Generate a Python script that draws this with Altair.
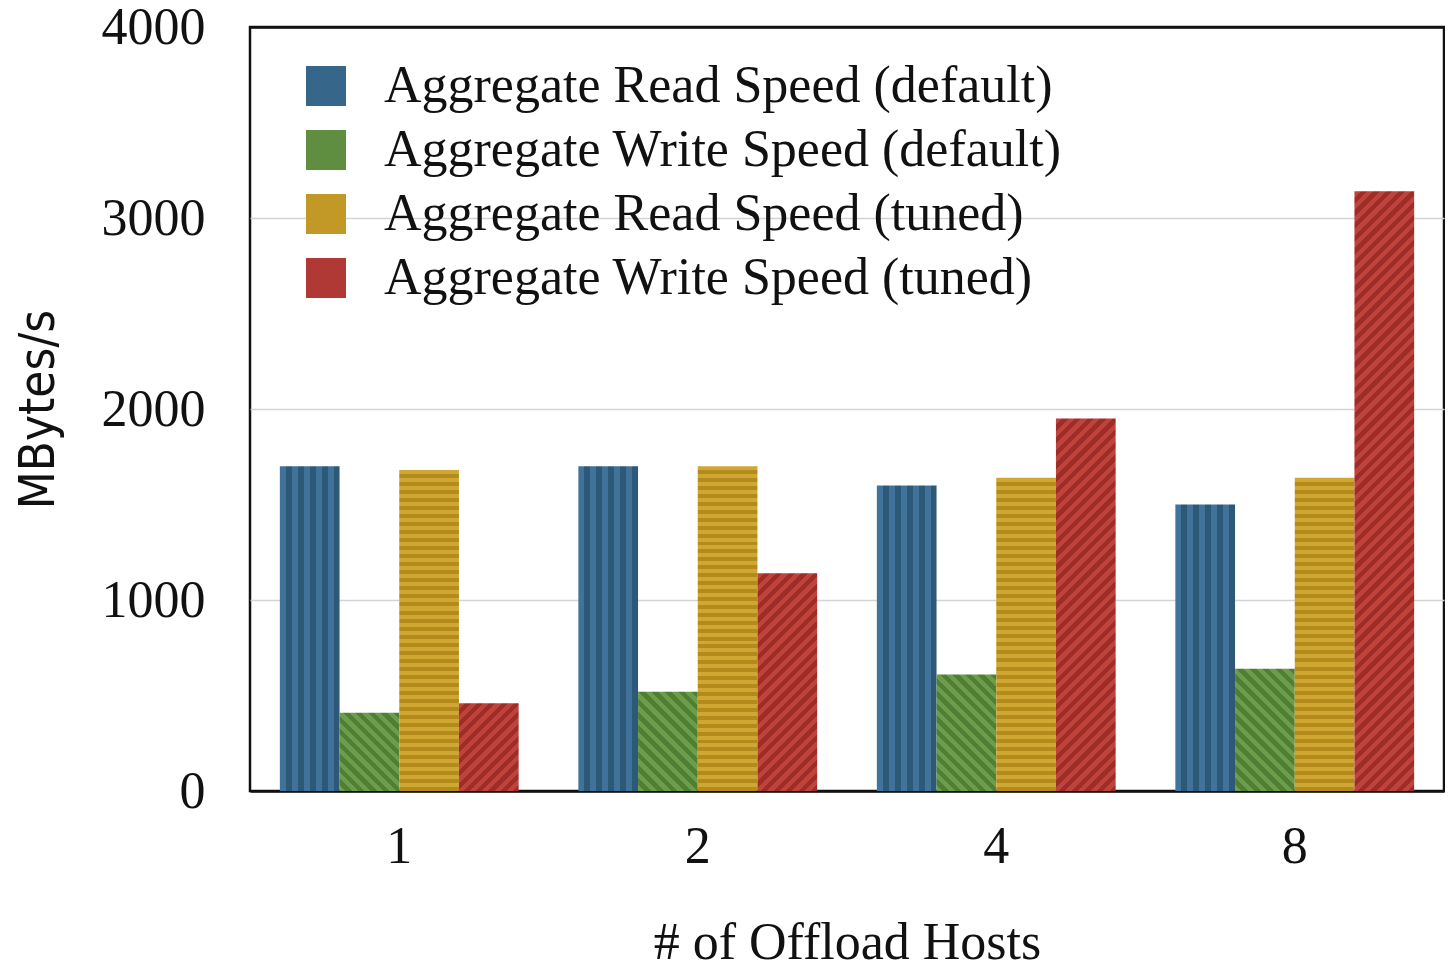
import altair as alt
import pandas as pd

hosts = ["1", "2", "4", "8"]
series = [
    "Aggregate Read Speed (default)",
    "Aggregate Write Speed (default)",
    "Aggregate Read Speed (tuned)",
    "Aggregate Write Speed (tuned)",
]
read_default = [1700, 1700, 1600, 1500]
write_default = [410, 520, 610, 640]
read_tuned = [1680, 1700, 1640, 1640]
write_tuned = [460, 1140, 1950, 3140]

values = [read_default, write_default, read_tuned, write_tuned]
light = ["#41739a", "#6c9d4a", "#d0a732", "#bf423b"]
dark = ["#2b5977", "#517e35", "#b38a1c", "#9e2d2a"]
legend_colors = ["#36668a", "#5f8e40", "#c29927", "#b03835"]
patterns = ["vertical", "backslash", "horizontal", "slash"]

W, H = 1194, 764
YMAX = 4000
step = W / 4.0
bar_w = step * 0.8 / 4.0

rows = []
for s, vals in zip(series, values):
    for h, v in zip(hosts, vals):
        rows.append({"host": h, "series": s, "value": v})
df = pd.DataFrame(rows)


def stops(c1, c2, n):
    out = []
    for i in range(n):
        a = i / n
        b = (i + 0.5) / n
        c = (i + 1) / n
        out += [
            {"offset": a, "color": c1},
            {"offset": b, "color": c1},
            {"offset": b, "color": c2},
            {"offset": c, "color": c2},
        ]
    return out


def gradient(kind, c1, c2, hpx):
    w = bar_w
    if kind == "vertical":
        n = 5
        return {"gradient": "linear", "x1": 0, "y1": 0, "x2": 1, "y2": 0,
                "stops": stops(c1, c2, n)}
    if kind == "horizontal":
        n = max(1, round(hpx / 8.0))
        return {"gradient": "linear", "x1": 0, "y1": 0, "x2": 0, "y2": 1,
                "stops": stops(c1, c2, n)}
    a = (w + hpx) / (w * w + hpx * hpx)
    n = max(1, round((w + hpx) / (9.0 * 1.41421)))
    if kind == "slash":
        return {"gradient": "linear", "x1": 0, "y1": 0, "x2": a * w, "y2": a * hpx,
                "stops": stops(c1, c2, n)}
    return {"gradient": "linear", "x1": 0, "y1": 1, "x2": a * w, "y2": 1 - a * hpx,
            "stops": stops(c1, c2, n)}


x_enc = alt.X(
    "host:N",
    scale=alt.Scale(domain=hosts, paddingInner=0.2, paddingOuter=0.1),
    axis=alt.Axis(
        title="# of Offload Hosts", labelAngle=0, ticks=False, domain=False,
        labelFontSize=52, labelFont="Liberation Serif", labelColor="#111",
        labelPadding=30, titleFontSize=52, titleFont="Liberation Serif",
        titleFontWeight="normal", titleColor="#111", titleBaseline="alphabetic",
        titleY=167,
    ),
)
xo_enc = alt.XOffset("series:N", scale=alt.Scale(domain=series, paddingInner=0, paddingOuter=0))
y_enc = alt.Y(
    "value:Q",
    scale=alt.Scale(domain=[0, YMAX], nice=False),
    axis=alt.Axis(
        title="MBytes/s", values=[0, 1000, 2000, 3000, 4000], format="d",
        ticks=False, domain=False,
        grid=True,
        gridColor={"condition": {"test": "datum.value == 0 || datum.value == 4000",
                                 "value": "#111"}, "value": "#d4d4d4"},
        gridWidth={"condition": {"test": "datum.value == 0 || datum.value == 4000",
                                 "value": 2.5}, "value": 1.5},
        labelFontSize=52, labelFont="Liberation Serif", labelColor="#111",
        labelPadding=45,
        titleFontSize=49,
        titleFont="DejaVu Sans Condensed, Liberation Sans Narrow, Liberation Sans, sans-serif",
        titleFontWeight="normal", titleColor="#111", titleAngle=270,
        titleX=-212, titleY=382, titleAlign="center", titleBaseline="middle",
    ),
)

layers = []
# legend carrier layer (invisible marks, visible legend symbols)
legend_layer = alt.Chart(df).mark_square(opacity=0).encode(
    x=x_enc, xOffset=xo_enc, y=y_enc,
    color=alt.Color(
        "series:N",
        scale=alt.Scale(domain=series, range=legend_colors),
        legend=alt.Legend(
            title=None, orient="none", legendX=50, legendY=33,
            symbolType="square", symbolSize=1600, symbolOpacity=1,
            symbolStrokeWidth=0, labelFontSize=52, labelFont="Liberation Serif",
            labelColor="#111", labelOffset=32, rowPadding=12, padding=0,
            labelLimit=1000,
        ),
    ),
)
layers.append(legend_layer)

for si, s in enumerate(series):
    for hi, h in enumerate(hosts):
        v = values[si][hi]
        hpx = v / YMAX * H
        fill = gradient(patterns[si], light[si], dark[si], hpx)
        layer = (
            alt.Chart(df)
            .transform_filter((alt.datum.series == s) & (alt.datum.host == h))
            .mark_bar(fill=fill, strokeWidth=0)
            .encode(x=x_enc, xOffset=xo_enc, y=y_enc)
        )
        layers.append(layer)

chart = (
    alt.layer(*layers)
    .properties(
        width=W, height=H, autosize="none", background="white",
        padding={"left": 242, "top": 19, "right": 1, "bottom": 172},
    )
    .configure_view(stroke="#111", strokeWidth=2.5)
)

chart.save("out.html", embed_options={"renderer": "svg", "actions": False})
